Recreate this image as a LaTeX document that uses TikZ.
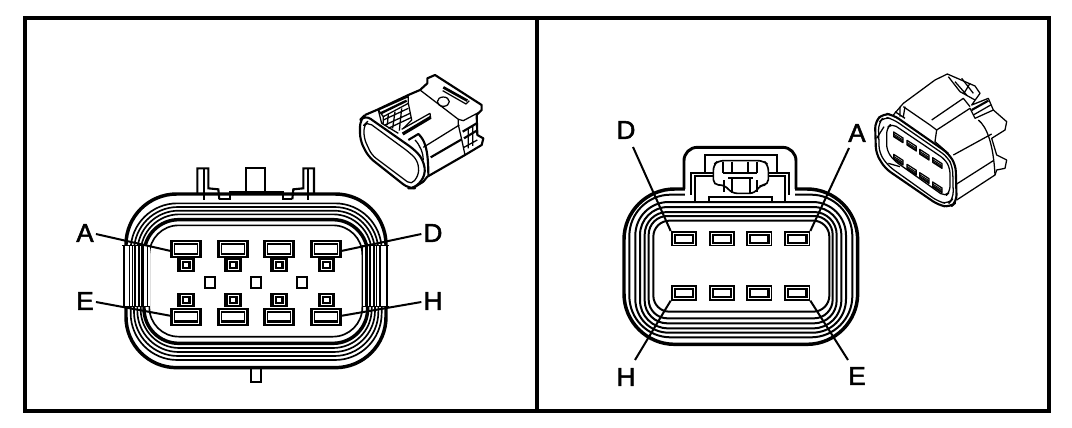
\documentclass[tikz,border=0pt]{standalone}
\usepackage{fontspec}
\setmainfont{Liberation Sans}
\newfontfamily\lblfont[FakeBold=2]{Liberation Sans}
\newcommand{\bigterm}[3]{%
  \node[termbox,minimum width=23.75pt,minimum height=13.25pt] (#1) at (#2,#3) {};
  \draw[white,line width=.55pt] (#2-38,#3-19) rectangle (#2+38,#3+19);
  \fill[white] (#2-32,#3-11) rectangle (#2+32,#3+11);
}
\newcommand{\smallterm}[3]{%
  \node[termbox,minimum width=13pt,minimum height=11pt] at (#2,#3) {};
  \draw[white,line width=.6pt] (#2-15,#3-13) rectangle (#2+15,#3+12);
  \fill[white] (#2-7,#3-6) rectangle (#2+7,#3+5);
}
\newcommand{\pinbox}[3]{%
  \node[termbox,minimum width=19.5pt,minimum height=11.5pt] (#1) at (#2,#3) {};
  \draw[white,line width=.55pt] (#2-32,#3-17) rectangle (#2+32,#3+17);
  \fill[white] (#2-24,#3-9) rectangle (#2+24,#3+9);
}
\tikzset{
  termbox/.style={fill=black,draw=none,inner sep=0pt,outer sep=0pt,rectangle},
  lbl/.style={font=\lblfont\fontsize{19.5}{20}\selectfont,inner sep=0pt,text=black},
  lead/.style={line width=1.5pt},
  frameline/.style={line width=3pt},
  thin3d/.style={line width=.95pt,line join=round},
  thick3d/.style={line width=1.6pt,line join=round},
  shell/.style={line width=1.25pt},
  shellr/.style={line width=1.5pt},
  shellb/.style={line width=2.6pt},
}
\begin{document}
\begin{tikzpicture}[x=.75pt,y=-.75pt]
\useasboundingbox (0,0) rectangle (1072,428);
\fill[white] (0,0) rectangle (1072,428);
\draw[frameline] (25,18) rectangle (1049,411);
\draw[frameline] (537,18) -- (537,411);

% ---------- left connector
\begin{scope}[shift={(60,150)},x=.25pt,y=-.25pt]
  % top features
  \draw[line width=1.6pt] (412,130) -- (412,55) -- (445,55) -- (445,115) -- (475,118) -- (478,148);
  \draw[shell] (432,55) -- (432,150);
  \draw[line width=1.6pt] (762,130) -- (762,55) -- (730,55) -- (730,115) -- (700,118) -- (697,148);
  \draw[shell] (743,55) -- (743,150);
  \draw[line width=1.6pt] (478,147) -- (510,147) -- (510,127) -- (668,127) -- (668,147) -- (697,147);
  \draw[line width=1.6pt] (559,127) -- (559,54) -- (616,54) -- (616,127);
  % bottom tab
  \draw[line width=1.6pt] (572,655) -- (572,695) -- (604,695) -- (604,655);
  % nested shell
  \draw[shellb,rounded corners=38pt] (198,132) rectangle (978,653);
  \draw[shell,rounded corners=35pt] (212,160) rectangle (965,630);
  \draw[shell,rounded corners=33pt] (222,171) rectangle (955,618);
  \draw[shell,rounded corners=31pt] (232,182) rectangle (945,606);
  \draw[shell,rounded corners=29pt] (242,193) rectangle (935,594);
  \draw[shellb,rounded corners=26pt] (252,209) rectangle (923,580);
  \draw[shell,rounded corners=22pt] (268,226) rectangle (907,560);
  % straight side walls
  \fill[white] (186,286) rectangle (270,470);
  \fill[white] (905,286) rectangle (988,470);
  \foreach \sx/\sw in {192/2.2pt,208/1.2pt,217/1.2pt,226/1.6pt,236/1.6pt,248/1.9pt,262/1.2pt,
                       908/1.2pt,919/2pt,931/1.6pt,941/1.6pt,950/1.2pt,960/1.2pt,981/2.2pt}
    \draw[line width=\sw] (\sx,286) -- (\sx,470);
  \draw[line width=1pt] (186,286) -- (270,286) (186,470) -- (270,470) (905,286) -- (988,286) (905,470) -- (988,470);
  % terminals
  \bigterm{tA}{378}{297} \bigterm{tB}{519}{297} \bigterm{tC}{657}{297} \bigterm{tD}{798}{297}
  \bigterm{tE}{378}{500} \bigterm{tF}{519}{500} \bigterm{tG}{657}{500} \bigterm{tH}{798}{500}
  \smallterm{s1}{378}{345} \smallterm{s2}{519}{345} \smallterm{s3}{657}{345} \smallterm{s4}{800}{345}
  \smallterm{s5}{378}{450} \smallterm{s6}{519}{450} \smallterm{s7}{657}{450} \smallterm{s8}{800}{450}
  \foreach \qx in {450,588,725}
    \draw[line width=1.6pt] (\qx-15,382) rectangle (\qx+15,415);
\end{scope}
\node[lbl] (lA) at (85,233) {A};
\node[lbl] (lD) at (433,233) {D};
\node[lbl] (lE) at (85,301) {E};
\node[lbl] (lH) at (433,301) {H};
\draw[lead] (lA.east) ++(2,1) coordinate (cA) -- ([yshift=-1.4pt]tA.west);
\draw[lead] (lD.west) ++(-2,1) coordinate (cD) -- ([yshift=-1.4pt]tD.east);
\draw[lead] (lE.east) ++(2,1) coordinate (cE) -- ([yshift=.7pt]tE.west);
\draw[lead] (lH.west) ++(-2,1) coordinate (cH) -- ([yshift=.7pt]tH.east);

% ---------- left 3D view
\begin{scope}[shift={(340,60)},x=.25pt,y=-.25pt]
  \draw[thick3d,rounded corners=5pt] (75,165) -- (225,270) -- (250,300) -- (257,345) -- (225,385) -- (205,385) -- (85,290) -- (60,240) -- (60,180) -- cycle;
  \draw[thin3d,rounded corners=4pt] (72,195) -- (82,185) -- (205,275) -- (232,300) -- (238,340) -- (215,375) -- (95,285) -- (72,235) -- cycle;
  \draw[thick3d] (75,165) -- (110,150) -- (205,105) -- (240,90) -- (262,70) -- (262,55) -- (285,45) -- (425,135) -- (425,150) -- (410,165) -- (412,225) -- (430,235) -- (425,255) -- (375,285) -- (262,350) -- (250,365) -- (218,385);
  \draw[thin3d] (115,150) -- (205,110) -- (205,130) -- (130,170) -- (115,150);
  \draw[line width=1.8pt] (122,160) -- (200,122);
  \draw[thin3d] (115,150) -- (125,190) -- (150,205) -- (175,220)
    (130,170) -- (130,190) (145,162) -- (142,195) (165,155) -- (158,205) (185,145) -- (178,212)
    (130,180) -- (205,145) (135,195) -- (210,160) (145,205) -- (215,172);
  \draw[thin3d] (205,130) -- (215,180) -- (190,205);
  \draw[line width=2.4pt] (188,222) -- (272,172);
  \draw[thin3d] (185,208) -- (270,160) -- (272,175);
  \draw[thick3d] (205,240) -- (235,222) .. controls (255,240) and (265,270) .. (265,345);
  \draw[thin3d] (225,240) .. controls (240,255) and (250,280) .. (250,300);
  \draw[thin3d] (250,262) -- (358,195);
  \draw[thick3d] (272,292) -- (365,238);
  \draw[thin3d] (240,90) -- (355,178) -- (355,195) -- (365,238) -- (375,285);
  \draw[thin3d] (355,178) -- (370,182) -- (415,158);
  \draw[thick3d] (368,215) -- (410,190) (372,235) -- (410,212);
  \draw[thin3d] (372,262) -- (412,240) (385,205) -- (385,265) (398,198) -- (398,258);
  \draw[thin3d] (310,125) ellipse (18 and 14);
  \draw[line width=2pt] (310,82) -- (382,122);
  \draw[thin3d] (308,92) -- (378,132) -- (388,122);
\end{scope}

% ---------- right connector
\begin{scope}[shift={(600,110)},x=.25pt,y=-.25pt]
  \draw[shellb,rounded corners=38pt] (72,237) rectangle (773,703);
  \draw[shellr,rounded corners=31pt] (88,254) rectangle (757,682);
  \draw[shellr,rounded corners=25pt] (106,276) rectangle (738,668);
  \draw[shellr,rounded corners=21pt] (120,291) rectangle (724,655);
  \draw[shellr,rounded corners=17pt] (134,306) rectangle (710,640);
  \draw[shellr,rounded corners=14pt] (146,318) rectangle (698,625);
  \draw[shellr,rounded corners=12pt] (160,332) rectangle (688,605);
  \fill[white] (254,225) rectangle (586,272);
  \draw[line width=2.2pt,rounded corners=10pt] (252,237) -- (252,112) -- (588,112) -- (588,237);
  \draw[line width=1.6pt] (315,185) -- (315,135) -- (530,135) -- (530,185);
  \draw[shellr] (272,254) -- (272,188) -- (568,188) -- (568,254);
  \draw[shellr] (285,276) -- (285,197) -- (555,197) -- (555,276);
  \draw[line width=1.5pt] (328,276) -- (328,260) -- (517,260) -- (517,276);
  \fill[white] (340,152) rectangle (505,220);
  \draw[shell,rounded corners=4pt] (340,225) -- (340,165) -- (355,152) -- (490,152) -- (505,165) -- (505,225) -- (480,225) -- (465,250) -- (395,250) -- (375,225) -- cycle;
  \draw[line width=1.6pt] (370,155) -- (370,190) (470,155) -- (470,190) (395,155) -- (395,190) (445,155) -- (445,190) (370,190) -- (470,190);
  \draw[line width=1.6pt] (385,205) -- (460,205) (395,205) -- (395,250) (450,205) -- (450,250) (372,210) -- (372,245) (470,210) -- (470,245);
  \pinbox{pD}{251}{386} \pinbox{pB}{365}{386} \pinbox{pC}{478}{386} \pinbox{pA}{592}{386}
  \pinbox{pH}{251}{549} \pinbox{pF}{365}{549} \pinbox{pG}{478}{549} \pinbox{pE}{592}{549}
\end{scope}
\node[lbl] (rD) at (626,130) {D};
\node[lbl] (rA) at (857,133) {A};
\node[lbl] (rH) at (626,377) {H};
\node[lbl] (rE) at (857,376) {E};
\draw[lead] (633,147) coordinate (dD) -- (pD.north west);
\draw[lead] (849,148) coordinate (dA) -- (pA.north east);
\draw[lead] (635,360) coordinate (dH) -- (pH.south west);
\draw[lead] (848,360) coordinate (dE) -- (pE.south east);

% ---------- right 3D view
\begin{scope}[shift={(860,60)},x=.25pt,y=-.25pt]
  \draw[thick3d,rounded corners=5pt] (45,185) -- (70,160) -- (100,165) -- (265,280) -- (287,315) -- (290,425) -- (270,442) -- (235,435) -- (75,325) -- (48,280) -- cycle;
  \draw[thin3d,rounded corners=5pt] (55,190) -- (72,170) -- (100,178) -- (262,290) -- (278,320) -- (280,415) -- (265,432) -- (235,425) -- (85,318) -- (58,280) -- cycle;
  \draw[thin3d,rounded corners=4pt] (80,205) -- (95,190) -- (255,298) -- (270,325) -- (270,395) -- (255,410) -- (100,300) -- (80,270) -- cycle;
  \draw[thin3d] (100,165) -- (130,130) -- (225,60) -- (262,42) -- (345,78) -- (360,100) -- (335,135) -- (385,115) -- (400,150) -- (440,185) -- (435,210) -- (395,235) -- (410,285) -- (440,300) -- (435,325) -- (410,330) -- (405,345) -- (290,420);
  \draw[thin3d] (130,140) -- (210,195) -- (230,210) -- (225,245) -- (265,280);
  \draw[thin3d] (215,180) -- (310,115) -- (330,140);
  \draw[thin3d] (230,210) -- (330,145) -- (345,175) -- (400,150);
  \draw[thin3d] (355,180) .. controls (380,200) and (400,250) .. (405,345);
  \draw[thin3d] (290,372) -- (400,302);
  \draw[thin3d] (280,285) -- (395,222);
  \draw[thin3d] (265,50) -- (300,95) -- (345,120) (285,65) -- (320,105) (305,55) -- (340,100) (330,70) -- (315,95);
  \draw[thick3d] (335,150) -- (385,122);
  \draw[thin3d] (340,165) -- (392,135);
  \draw[thin3d] (105,155) -- (135,175) (120,140) -- (120,170) (135,140) -- (130,170);
  \draw[thin3d] (72,200) -- (50,235) (85,310) -- (120,320);
  \foreach \px/\py in {115/228,155/253,193/280,232/305,115/295,155/325,193/350,232/378}{
    \draw[thin3d] (\px-14,\py-12) -- (\px+14,\py+6) -- (\px+14,\py+20) -- (\px-14,\py+2) -- cycle;
    \draw[line width=.7pt] (\px-14,\py-6) -- (\px+14,\py+12) (\px-14,\py-1) -- (\px+14,\py+17);
  }
\end{scope}
\end{tikzpicture}
\end{document}
